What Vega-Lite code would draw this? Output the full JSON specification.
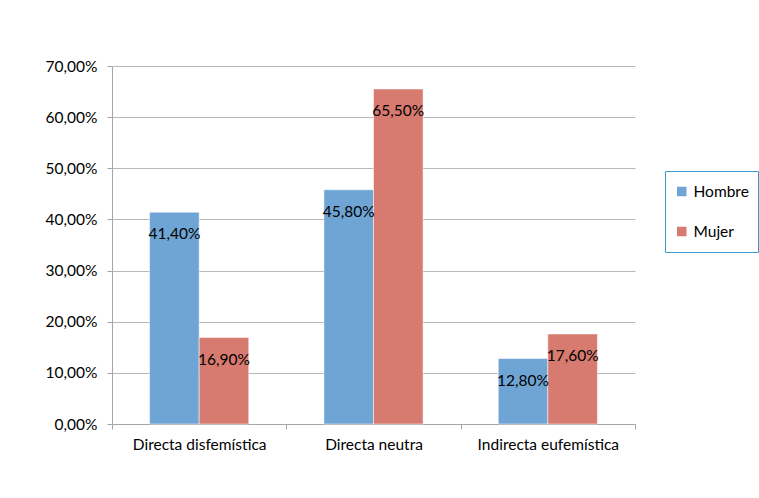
{
  "$schema": "https://vega.github.io/schema/vega-lite/v6.json",
  "width": 523,
  "height": 358,
  "autosize": {"type": "none"},
  "padding": {"left": 112, "top": 66, "right": 124, "bottom": 74},
  "background": "white",
  "config": {
    "locale": {"number": {"decimal": ",", "thousands": ".", "grouping": [3], "currency": ["", " €"]}},
    "view": {"stroke": null},
    "font": "Lato"
  },
  "data": {
    "values": [
      {"tipo": "Directa disfemística", "sexo": "Hombre", "pct": 0.414},
      {"tipo": "Directa disfemística", "sexo": "Mujer", "pct": 0.169},
      {"tipo": "Directa neutra", "sexo": "Hombre", "pct": 0.458},
      {"tipo": "Directa neutra", "sexo": "Mujer", "pct": 0.655},
      {"tipo": "Indirecta eufemística", "sexo": "Hombre", "pct": 0.128},
      {"tipo": "Indirecta eufemística", "sexo": "Mujer", "pct": 0.176}
    ]
  },
  "encoding": {
    "x": {
      "field": "tipo",
      "type": "nominal",
      "sort": ["Directa disfemística", "Directa neutra", "Indirecta eufemística"],
      "scale": {"paddingInner": 0, "paddingOuter": 0},
      "axis": {
        "title": null,
        "labelAngle": 0,
        "labelFontSize": 15.5,
        "labelColor": "#000000",
        "labelPadding": 8,
        "tickBand": "extent",
        "tickSize": 5,
        "tickColor": "#a6a6a6",
        "domainColor": "#a6a6a6",
        "grid": false
      }
    },
    "xOffset": {
      "field": "sexo",
      "sort": ["Hombre", "Mujer"],
      "scale": {"paddingInner": 0, "paddingOuter": 0.758}
    },
    "y": {
      "field": "pct",
      "type": "quantitative",
      "scale": {"domain": [0, 0.7], "nice": false},
      "axis": {
        "title": null,
        "values": [0, 0.1, 0.2, 0.3, 0.4, 0.5, 0.6, 0.7],
        "format": ".2%",
        "labelFontSize": 15.5,
        "labelColor": "#000000",
        "labelPadding": 10,
        "tickSize": 5,
        "tickColor": "#a6a6a6",
        "domainColor": "#a6a6a6",
        "grid": true,
        "gridColor": "#b8b8b8"
      }
    }
  },
  "layer": [
    {
      "mark": {"type": "bar", "stroke": "#ffffff", "strokeWidth": 1, "strokeOpacity": 0.5},
      "encoding": {
        "color": {
          "field": "sexo",
          "type": "nominal",
          "scale": {"domain": ["Hombre", "Mujer"], "range": ["#6fa5d5", "#d77a6f"]},
          "legend": {
            "title": null,
            "orient": "none",
            "legendX": 553,
            "legendY": 105,
            "strokeColor": "#3d9bd3",
            "padding": 9,
            "clipHeight": 23,
            "symbolType": "square",
            "symbolSize": 90,
            "symbolStrokeWidth": 0,
            "labelFontSize": 15.5,
            "labelColor": "#000000",
            "rowPadding": 17,
            "labelOffset": 4
          }
        }
      }
    },
    {
      "mark": {"type": "text", "baseline": "middle", "dy": 22, "fontSize": 15.5, "color": "#000000"},
      "encoding": {"text": {"field": "pct", "type": "quantitative", "format": ".2%"}}
    }
  ]
}
